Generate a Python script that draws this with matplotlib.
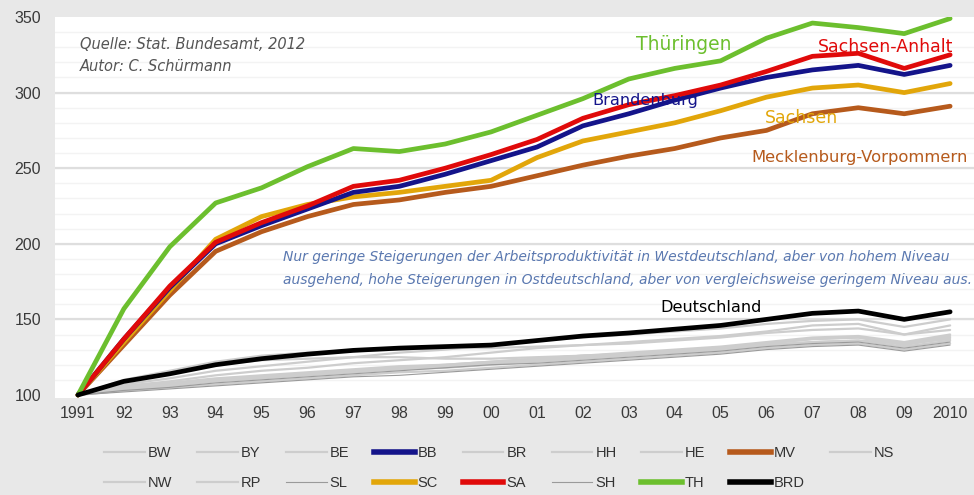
#! coding:utf-8
"""
Arbeitsproduktivitaet der Bundeslaender 1991-2010 (1991 = 100)
"""

import matplotlib
matplotlib.use('Agg')
import matplotlib.pyplot as plt
from matplotlib.lines import Line2D

plt.rcParams['font.family'] = ['Liberation Sans', 'DejaVu Sans']

# ***************************************
# Daten
# ***************************************
years = list(range(1991, 2011))
year_labels = ['1991', '92', '93', '94', '95', '96', '97', '98', '99', '00',
               '01', '02', '03', '04', '05', '06', '07', '08', '09', '2010']

# Ostdeutschland
TH = [100, 157, 198, 227, 237, 251, 263, 261, 266, 274, 285, 296, 309, 316, 321, 336, 346, 343, 339, 349]
SA = [100, 137, 172, 201, 214, 225, 238, 242, 250, 259, 269, 283, 292, 298, 305, 314, 324, 326, 316, 325]
BB = [100, 137, 171, 200, 212, 223, 234, 238, 246, 255, 264, 278, 286, 295, 303, 310, 315, 318, 312, 318]
SC = [100, 135, 169, 203, 218, 226, 231, 234, 238, 242, 257, 268, 274, 280, 288, 297, 303, 305, 300, 306]
MV = [100, 133, 166, 195, 208, 218, 226, 229, 234, 238, 245, 252, 258, 263, 270, 275, 286, 290, 286, 291]

# Westdeutschland
BW = [100, 106, 109, 113, 116, 118, 121, 123, 125, 128, 131, 133, 135, 137, 139, 142, 146, 147, 140, 146]
BY = [100, 107, 111, 116, 119, 122, 125, 128, 130, 133, 136, 138, 140, 142, 144, 147, 149, 150, 145, 150]
BE = [100, 109, 115, 120, 123, 124, 125, 125, 124, 124, 125, 126, 127, 128, 130, 133, 135, 136, 134, 137]
BR = [100, 105, 108, 111, 113, 115, 117, 119, 120, 122, 124, 126, 128, 130, 132, 135, 138, 139, 135, 140]
HH = [100, 110, 116, 122, 126, 128, 129, 130, 131, 131, 132, 133, 134, 136, 138, 141, 143, 144, 140, 143]
HE = [100, 104, 107, 110, 112, 114, 116, 118, 120, 122, 124, 126, 127, 129, 131, 134, 137, 138, 133, 138]
NS = [100, 103, 106, 109, 111, 113, 115, 117, 118, 120, 122, 124, 126, 128, 130, 133, 135, 136, 132, 136]
NW = [100, 104, 107, 110, 112, 114, 116, 117, 119, 121, 123, 125, 127, 129, 131, 134, 137, 138, 134, 139]
RP = [100, 103, 105, 107, 109, 111, 113, 115, 116, 118, 120, 122, 124, 126, 128, 131, 133, 134, 130, 134]
SL = [100, 102, 104, 106, 108, 110, 112, 113, 115, 117, 119, 121, 123, 125, 127, 130, 132, 133, 129, 133]
SH = [100, 103, 105, 108, 110, 112, 114, 116, 118, 120, 121, 123, 125, 127, 129, 132, 134, 135, 131, 135]

# Deutschland
BRD = [100, 109, 114, 120, 124, 127, 129.5, 131, 132, 133, 136, 139, 141, 143.5, 146, 150, 154, 155.5, 150, 155]

yticks = [100, 150, 200, 250, 300, 350]

# ***************************************
# Stil
# ***************************************
BG = '#e8e8e8'
GRAY = '#cdcdcd'
GRAY_THIN = '#9a9a9a'
C_TH = '#6cbf2e'
C_SA = '#e00a0a'
C_BB = '#14148a'
C_SC = '#e2a60a'
C_MV = '#b65a1c'
C_BRD = '#000000'
WIDE = ['DejaVu Sans']

fig = plt.figure(figsize=(9.74, 4.95), dpi=100, facecolor=BG)
ax = fig.add_axes([55 / 974, 1 - 398 / 495, 1 - 55 / 974, (398 - 17) / 495])
ax.set_facecolor('white')
for s in ax.spines.values():
    s.set_visible(False)

ax.set_xlim(1990.5, 2010.52)
ax.set_ylim(98.0, 350.0)

# Gitterlinien
for v in range(110, 350, 10):
    ax.axhline(v, color='#f3f3f3', lw=1.0, zorder=0)
for v in yticks[1:-1]:
    ax.axhline(v, color='#dedede', lw=1.6, zorder=0)

# Westdeutsche Laender (grau)
west = [('BW', BW, GRAY, 1.6), ('BY', BY, GRAY, 1.6), ('BE', BE, GRAY, 1.6),
        ('BR', BR, GRAY, 1.6), ('HH', HH, GRAY, 1.6), ('HE', HE, GRAY, 1.6),
        ('NS', NS, GRAY, 1.6), ('NW', NW, GRAY, 1.6), ('RP', RP, GRAY, 1.6),
        ('SL', SL, GRAY_THIN, 0.8), ('SH', SH, GRAY_THIN, 0.8)]
handles = {}
for name, vals, col, lw in west:
    ax.plot(years, vals, color=col, lw=lw, solid_joinstyle='round',
            solid_capstyle='round', zorder=2)
    handles[name] = Line2D([], [], color=col, lw=lw)

# Ostdeutsche Laender und Deutschland
east = [('MV', MV, C_MV), ('SC', SC, C_SC), ('BB', BB, C_BB),
        ('SA', SA, C_SA), ('TH', TH, C_TH), ('BRD', BRD, C_BRD)]
for name, vals, col in east:
    ax.plot(years, vals, color=col, lw=3.4, solid_joinstyle='round',
            solid_capstyle='round', zorder=3)
    handles[name] = Line2D([], [], color=col, lw=4)

# Achsen
ax.set_xticks(years)
ax.set_xticklabels(year_labels)
ax.set_yticks(yticks)
ax.tick_params(length=0, labelsize=11.5, colors='#3a3a3a', pad=6)
ax.tick_params(axis='y', pad=10)

# Beschriftungen
ax.text(1991.05, 331.5, 'Quelle: Stat. Bundesamt, 2012', fontsize=10.5,
        style='italic', color='#555555', va='center', family=WIDE)
ax.text(1991.05, 317, 'Autor: C. Schürmann', fontsize=10.5,
        style='italic', color='#555555', va='center', family=WIDE)

ax.text(2003.16, 331.5, 'Thüringen', color=C_TH, fontsize=13.5, va='center',
        family=WIDE)
ax.text(2007.12, 330, 'Sachsen-Anhalt', color=C_SA, fontsize=12.5,
        va='center', family=WIDE)
ax.text(2002.2, 295, 'Brandenburg', color=C_BB, fontsize=11.6, va='center',
        family=WIDE)
ax.text(2005.97, 283, 'Sachsen', color=C_SC, fontsize=12.5, va='center',
        family=WIDE)
ax.text(2005.68, 257, 'Mecklenburg-Vorpommern', color=C_MV, fontsize=11.8,
        va='center', family=WIDE)
ax.text(2003.68, 158, 'Deutschland', color='black', fontsize=11.6,
        va='center', family=WIDE)

ax.text(1995.47, 191.3,
        'Nur geringe Steigerungen der Arbeitsproduktivität in Westdeutschland, '
        'aber von hohem Niveau',
        color='#5a78b0', fontsize=10.0, style='italic', va='center',
        family=WIDE)
ax.text(1995.47, 176,
        'ausgehend, hohe Steigerungen in Ostdeutschland, aber von '
        'vergleichsweise geringem Niveau aus.',
        color='#5a78b0', fontsize=10.0, style='italic', va='center',
        family=WIDE)

# Legende (zwei Zeilen, neun Spalten)
row1 = ['BW', 'BY', 'BE', 'BB', 'BR', 'HH', 'HE', 'MV', 'NS']
row2 = ['NW', 'RP', 'SL', 'SC', 'SA', 'SH', 'TH', 'BRD']
order = []
for i in range(9):
    order.append(row1[i])
    if i < len(row2):
        order.append(row2[i])
fig.legend([handles[n] for n in order], order, loc='center left',
           bbox_to_anchor=(104 / 974, 1 - 468 / 495), ncol=9, frameon=False,
           fontsize=10.5, handlelength=2.8, handletextpad=0.2,
           columnspacing=1.7, labelspacing=1.15, borderpad=0,
           borderaxespad=0, labelcolor='#333333')

fig.savefig('out.png', dpi=100, facecolor=BG)
